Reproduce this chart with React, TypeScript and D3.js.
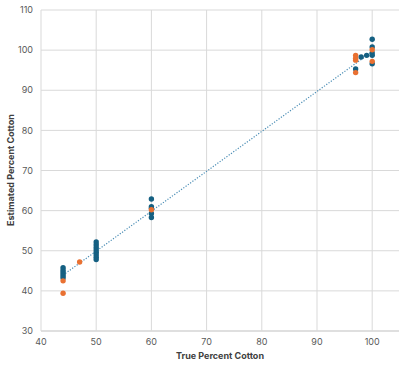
import React from "react";
import * as d3 from "d3";

const blueX = [44, 44, 44, 44, 44, 44, 50, 50, 50, 50, 50, 50, 50, 50, 60, 60, 60, 60, 60, 97, 98, 99, 100, 100, 100, 100, 100];
const blueY = [45.8, 45.2, 44.7, 44.2, 43.7, 43.2, 52.2, 51.5, 50.8, 50.2, 49.6, 49.0, 48.4, 47.8, 62.9, 61.0, 60.6, 59.3, 58.3, 95.3, 98.3, 98.7, 102.7, 100.8, 99.3, 98.7, 96.6];
const orangeX = [44, 44, 47, 60, 97, 97, 97, 97, 100, 100];
const orangeY = [42.5, 39.4, 47.2, 60.2, 98.7, 98.0, 97.5, 94.4, 100.1, 97.2];
const xTicks = [40, 50, 60, 70, 80, 90, 100];
const yTicks = [30, 40, 50, 60, 70, 80, 90, 100, 110];

const W = 400, H = 366;
const BLUE = "#156082", ORANGE = "#E97132";

export default function App() {
  const x = d3.scaleLinear().domain([40, 110]).range([41, 41 + 70 * 5.52]);
  const y = d3.scaleLinear().domain([30, 110]).range([331, 10]);
  const blue = blueX.map((v, i) => ({ x: v, y: blueY[i] }));
  const orange = orangeX.map((v, i) => ({ x: v, y: orangeY[i] }));
  const all = [...blue, ...orange];
  const mx = d3.mean(all, d => d.x)!, my = d3.mean(all, d => d.y)!;
  const sxy = d3.sum(all, d => (d.x - mx) * (d.y - my));
  const sxx = d3.sum(all, d => (d.x - mx) ** 2);
  const slope = sxy / sxx, icpt = my - slope * mx;
  const x0 = d3.min(all, d => d.x)!, x1 = d3.max(all, d => d.x)!;
  const font = "Inter, 'Liberation Sans', Arial, sans-serif";
  return (
    <svg width={W} height={H} style={{ position: "absolute", left: 0, top: 0, overflow: "hidden", background: "#fff" }}>
      <g>
        {yTicks.map(t => (
          <line key={"gy" + t} x1={41} x2={399} y1={y(t)} y2={y(t)} stroke={t === 30 ? "#bfbfbf" : "#d9d9d9"} strokeWidth={1} />
        ))}
        {xTicks.map(t => (
          <line key={"gx" + t} x1={x(t)} x2={x(t)} y1={y(30)} y2={y(110)} stroke="#d9d9d9" strokeWidth={1} />
        ))}
      </g>
      <line x1={x(x0)} x2={x(x1)} y1={y(slope * x0 + icpt)} y2={y(slope * x1 + icpt)} stroke="#4a8db5" strokeWidth={1.2} strokeDasharray="1.2,1.6" />
      {blue.map((d, i) => (
        <circle key={"b" + i} cx={x(d.x)} cy={y(d.y)} r={2.7} fill={BLUE} />
      ))}
      {orange.map((d, i) => (
        <circle key={"o" + i} cx={x(d.x)} cy={y(d.y)} r={2.7} fill={ORANGE} />
      ))}
      {yTicks.map(t => (
        <text key={"ty" + t} x={33} y={y(t)} dy="0.35em" textAnchor="end" fontSize={9} fill="#595959" fontFamily={font}>{t}</text>
      ))}
      {xTicks.map(t => (
        <text key={"tx" + t} x={x(t)} y={345} textAnchor="middle" fontSize={9} fill="#595959" fontFamily={font}>{t}</text>
      ))}
      <text x={220} y={359} textAnchor="middle" fontSize={9} fontWeight="bold" fill="#404040" fontFamily={font}>True Percent Cotton</text>
      <text transform="translate(14,170) rotate(-90)" textAnchor="middle" fontSize={9} fontWeight="bold" fill="#404040" fontFamily={font}>Estimated Percent Cotton</text>
    </svg>
  );
}
